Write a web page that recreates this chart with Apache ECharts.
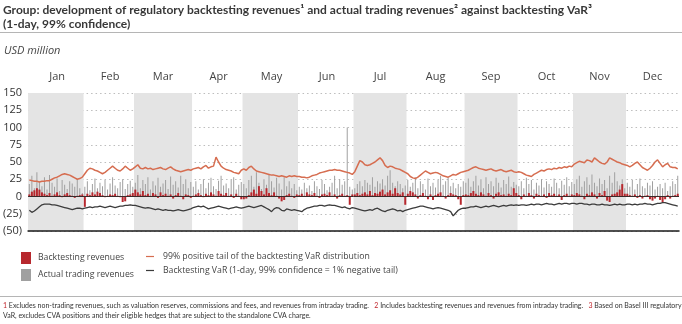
<!DOCTYPE html>
<html>
<head>
<meta charset="utf-8">
<script src="https://cdn.jsdelivr.net/npm/echarts@6/dist/echarts.min.js"></script>
<style>
  html, body { margin: 0; padding: 0; background: #fff; }
  #chart { width: 682px; height: 324px; }
</style>
</head>
<body>
<div id="chart"></div>
<script>
// Month names and the number of trading days in each month
const months = ['Jan', 'Feb', 'Mar', 'Apr', 'May', 'Jun', 'Jul', 'Aug', 'Sep', 'Oct', 'Nov', 'Dec'];
const tradingDaysPerMonth = [22, 20, 23, 20, 22, 22, 21, 23, 21, 22, 21, 21];

// Daily regulatory backtesting revenues, USD million
const backtestingRevenues = [
  3, 7, 9, 12, 10, 6, 4, 2, 5, 1, 3, 6, 2, -1, 3, 5, 2, 1, -2, 1, 2, 3,
  -15, 4, 2, 6, 3, 7, 5, 2, -1, 1, 3, 2, 4, 1, -1, -8, -7, 2, 3, 5,
  10, 6, 3, 8, 2, 4, 1, 5, 3, -2, 6, 2, 4, 1, 3, -3, 2, 5, 1, -4, 3, 2, -2,
  1, 3, 5, 2, -1, 4, 2, 6, 3, 1, 8, 4, 2, 5, 1, 3, -2, 4, 1, -4,
  -4, -3, 2, 6, 10, 4, 15, 8, 3, 12, 5, 2, 6, 1, -3, -7, -5, 2, 4, 1, -2, 3,
  2, 4, 1, 6, 3, 2, 5, 1, -2, 3, 4, 2, 6, 1, 3, -3, 2, 4, 1, 2, -12, 3,
  3, 5, 2, 4, 6, 3, 8, 2, 5, 4, 7, 10, 3, 6, 9, 4, 12, 5, 3, 6, -12,
  4, 8, 6, 3, -3, 2, 5, 1, -4, 3, -5, 2, 4, 6, 1, -3, 2, 5, 3, 2, -4, -12, 2,
  3, 2, 5, 8, 4, 2, 6, 3, 1, 5, 2, -3, 4, 6, 2, 3, 1, 4, 2, 12, 5,
  2, -4, 3, 1, 5, 2, -3, 4, 2, 1, 3, -2, 5, 2, 4, 1, 3, -5, 2, 4, 1, 3,
  2, 5, 3, 1, -4, 4, 2, 6, 3, -3, 5, 2, 8, -6, -8, 3, 4, 6, 10, 18, 4,
  4, 2, 1, 3, -2, 2, -3, 1, 2, -4, -6, -3, 1, -5, -8, -4, 2, -3, 1, 2, 4
];

// Daily actual trading revenues, USD million
const actualTradingRevenues = [
  18, 30, 12, 35, 22, 15, 28, 10, 31, 20, 14, 26, 8, 24, 17, 11, 22, 19, 14, 25, 12, 5,
  14, 22, 9, 18, 26, 12, 20, 15, 24, 10, 19, 28, 16, 12, 21, 25, 11, 18, 23, 14,
  20, 31, 12, 24, 18, 28, 10, 22, 16, 27, 14, 19, 24, 11, 29, 17, 22, 13, 30, 18, 25, 12, 21,
  14, 22, 10, 18, 25, 12, 20, 27, 15, 11, 23, 30, 16, 19, 12, 24, 28, 10, 17, 21,
  18, 12, 24, 30, 14, 35, 20, 11, 25, 17, 31, 22, 13, 27, 19, 10, 28, 15, 22, 12, 18, 9,
  14, 10, 20, 12, 16, 8, 22, 15, 11, 24, 18, 9, 14, 20, 30, 12, 25, 17, 22, 100, 14, 10,
  12, 18, 22, 15, 24, 20, 17, 28, 14, 22, 19, 25, 16, 30, 38, 20, 15, 22, 18, 12, 16,
  24, 14, 20, 28, 12, 22, 18, 10, 26, 15, 20, 13, 24, 30, 17, 22, 28, 15, 20, 12, 18, 14, 22,
  20, 26, 14, 22, 30, 16, 25, 12, 28, 18, 22, 15, 27, 20, 13, 24, 18, 29, 14, 21, 17,
  15, 22, 12, 27, 18, 24, 10, 20, 16, 25, 13, 22, 18, 14, 26, 20, 12, 23, 17, 28, 15, 21,
  18, 25, 30, 14, 22, 28, 17, 32, 20, 15, 26, 18, 24, 12, 30, 20, 35, 22, 16, 25, 12,
  20, 14, 24, 10, 18, 26, 15, 12, 20, 16, 22, 10, 14, 18, 12, 20, 8, 15, 22, 18, 30
];

// 99% positive tail of the backtesting VaR distribution, USD million
const positiveTail = [
  24, 23, 22, 22, 21, 22, 22, 23, 23, 25, 27, 28, 30, 32, 33, 32, 31, 29, 27, 25, 26, 28,
  33, 38, 41, 40, 38, 37, 35, 33, 35, 38, 41, 44, 41, 38, 37, 40, 44, 41, 38, 40,
  43, 46, 41, 40, 42, 40, 41, 39, 40, 41, 42, 40, 39, 41, 43, 40, 38, 37, 36, 37, 38, 39, 38,
  40, 41, 42, 40, 43, 45, 41, 43, 44, 57, 50, 44, 41, 39, 38, 37, 35, 34, 33, 38,
  40, 38, 42, 44, 40, 37, 36, 35, 34, 33, 32, 31, 31, 30, 29, 30, 29, 28, 30, 29, 30, 29,
  29, 28, 28, 27, 28, 30, 31, 32, 34, 35, 36, 37, 38, 38, 39, 38, 38, 37, 36, 35, 34, 32,
  36, 44, 52, 50, 46, 45, 46, 48, 50, 53, 56, 52, 45, 42, 44, 43, 41, 40, 39, 37, 35,
  33, 29, 27, 26, 28, 31, 34, 37, 35, 33, 34, 35, 34, 32, 30, 29, 28, 30, 32, 31, 33, 35, 36,
  37, 38, 40, 42, 43, 41, 40, 39, 38, 39, 40, 38, 37, 38, 39, 37, 36, 37, 38, 36, 35,
  36, 35, 33, 31, 30, 29, 32, 34, 36, 38, 37, 39, 40, 39, 41, 40, 42, 41, 43, 42, 44, 43,
  47, 49, 51, 50, 49, 53, 52, 50, 56, 53, 50, 48, 47, 50, 56, 54, 52, 50, 49, 47, 46,
  45, 43, 45, 48, 50, 46, 42, 40, 38, 41, 45, 50, 53, 48, 43, 46, 48, 43, 42, 42, 40
];

// Backtesting VaR (1-day, 99% confidence), USD million
const backtestingVaR = [
  -20, -23, -21, -18, -15, -12, -11, -11, -11, -12, -12, -13, -14, -15, -16, -17, -18, -19, -18, -17, -17, -18,
  -17, -16, -15, -16, -15, -15, -14, -15, -16, -15, -14, -15, -16, -15, -14, -14, -13, -13, -12, -13,
  -13, -14, -15, -16, -17, -16, -17, -18, -19, -18, -19, -20, -19, -20, -20, -21, -20, -19, -20, -21, -20, -19, -18,
  -16, -15, -14, -15, -14, -16, -18, -17, -16, -15, -14, -15, -16, -17, -18, -17, -16, -15, -16, -17,
  -16, -15, -14, -15, -16, -15, -14, -13, -15, -17, -19, -22, -18, -16, -17, -20, -21, -18, -19, -20, -19, -20,
  -21, -22, -19, -17, -16, -15, -14, -14, -13, -13, -14, -13, -12, -13, -13, -14, -15, -16, -15, -17, -18, -16,
  -17, -18, -19, -20, -21, -20, -19, -20, -18, -17, -19, -21, -22, -20, -19, -18, -19, -21, -20, -22, -20,
  -19, -18, -17, -16, -15, -14, -14, -15, -16, -17, -18, -17, -16, -17, -18, -19, -20, -22, -28, -24, -20, -18, -17,
  -17, -16, -15, -15, -14, -15, -16, -15, -14, -15, -14, -13, -14, -15, -14, -13, -14, -13, -12, -13, -12,
  -13, -12, -12, -13, -12, -11, -12, -11, -11, -12, -11, -10, -11, -11, -12, -11, -10, -11, -10, -10, -11, -10,
  -10, -11, -10, -10, -11, -11, -12, -11, -11, -12, -12, -11, -12, -12, -13, -12, -11, -12, -11, -12, -12,
  -11, -11, -12, -11, -12, -11, -11, -10, -11, -11, -12, -11, -10, -10, -9, -9, -10, -11, -12, -13, -14
];

// Value axis ticks
const yMin = -50, yMax = 150, yStep = 25;

// ---- day categories, month label positions and shaded month ranges ----
const days = [];
const monthMid = {};
const shadedMonths = [];
let start = 0;
tradingDaysPerMonth.forEach((n, m) => {
  for (let d = 0; d < n; d++) days.push(months[m] + ' ' + (d + 1));
  monthMid[start + Math.floor(n / 2)] = months[m];
  if (m % 2 === 0) shadedMonths.push([start, start + n - 1]);
  start += n;
});

const NARROW = "Lato, 'Open Sans', sans-serif";
const REG = "'Open Sans', 'Noto Sans', sans-serif";

const chart = echarts.init(document.getElementById('chart'), null, { renderer: 'canvas' });

chart.setOption({
  animation: false,
  backgroundColor: '#fff',
  title: {
    text: 'Group: development of regulatory backtesting revenues\u00b9 and actual trading revenues\u00b2 against backtesting VaR\u00b3\n(1-day, 99% confidence)',
    left: 3, top: 3, padding: 0,
    textStyle: { fontFamily: NARROW, fontSize: 12, fontWeight: 'bold', color: '#383838', lineHeight: 14 }
  },
  grid: { left: 26, right: 3, top: 93, height: 138, containLabel: false },
  legend: [
    {
      left: 21, top: 252, padding: 0, orient: 'vertical', itemGap: 5,
      itemWidth: 10, itemHeight: 12, icon: 'rect',
      data: ['Backtesting revenues', 'Actual trading revenues'],
      textStyle: { fontFamily: REG, fontSize: 8.7, color: '#444', padding: [2, 0, 0, 2] }
    },
    {
      left: 146, top: 252, padding: 0, orient: 'vertical', itemGap: 5,
      itemWidth: 8, itemHeight: 12,
      icon: 'path://M0,5.4 L8,5.4 L8,6.6 L0,6.6 Z',
      data: ['99% positive tail of the backtesting VaR distribution', 'Backtesting VaR (1-day, 99% confidence = 1% negative tail)'],
      textStyle: { fontFamily: REG, fontSize: 8.7, color: '#444', padding: [2, 0, 0, 4] }
    }
  ],
  xAxis: [
    {
      type: 'category', data: days, position: 'top', boundaryGap: true,
      axisLine: { show: false }, axisTick: { show: false }, splitLine: { show: false },
      axisLabel: {
        margin: 11, interval: 0, fontFamily: REG, fontSize: 11, color: '#444',
        formatter: (v, i) => monthMid[i] || ''
      }
    },
    {
      type: 'category', data: days, position: 'bottom', boundaryGap: true,
      axisLine: { show: true, onZero: false, lineStyle: { color: '#1a1a1a', width: 1.5 } },
      axisTick: { show: false }, axisLabel: { show: false }, splitLine: { show: false }
    }
  ],
  yAxis: {
    type: 'value', min: yMin, max: yMax, interval: yStep,
    axisLine: { show: false }, axisTick: { show: false },
    axisLabel: {
      margin: 6, fontFamily: REG, fontSize: 11, color: '#333',
      formatter: v => (v < 0 ? '(' + (-v) + ')' : String(v))
    },
    splitLine: { show: true, lineStyle: { color: '#bdbdbd', type: [1.5, 3], width: 1 } }
  },
  series: [
    {
      // grey background bands for alternate months
      type: 'custom', xAxisIndex: 0, silent: true, z: 0,
      data: shadedMonths,
      encode: { x: [0, 1] },
      renderItem: (params, api) => {
        const band = api.size([1, 0])[0];
        const p0 = api.coord([api.value(0), yMax]);
        const p1 = api.coord([api.value(1), yMin]);
        return {
          type: 'rect',
          shape: { x: p0[0] - band / 2, y: p0[1], width: p1[0] - p0[0] + band, height: p1[1] - p0[1] },
          style: { fill: '#e4e4e4' }
        };
      }
    },
    {
      name: 'Actual trading revenues', type: 'bar', xAxisIndex: 1,
      data: actualTradingRevenues, barWidth: 1, z: 2,
      itemStyle: { color: '#a0a0a0' }
    },
    {
      name: 'Backtesting revenues', type: 'bar', xAxisIndex: 0,
      data: backtestingRevenues, barWidth: 2, z: 3,
      itemStyle: { color: '#b7282e' },
      markLine: {
        silent: true, symbol: 'none', label: { show: false },
        lineStyle: { color: '#3a2a2a', type: 'solid', width: 1 },
        data: [{ yAxis: 0 }]
      }
    },
    {
      name: '99% positive tail of the backtesting VaR distribution', type: 'line',
      data: positiveTail, symbol: 'none', z: 4,
      lineStyle: { color: '#d66d50', width: 1.5 }, itemStyle: { color: '#d66d50' }
    },
    {
      name: 'Backtesting VaR (1-day, 99% confidence = 1% negative tail)', type: 'line',
      data: backtestingVaR, symbol: 'none', z: 4,
      lineStyle: { color: '#3b3b3b', width: 1.3 }, itemStyle: { color: '#3b3b3b' }
    }
  ],
  graphic: [
    { type: 'line', shape: { x1: 0, y1: 32.5, x2: 682, y2: 32.5 }, style: { stroke: '#b5b5b5', lineWidth: 1 } },
    {
      type: 'text', left: 4, top: 45,
      style: { text: 'USD million', font: 'italic 11px ' + REG, fill: '#444' }
    },
    { type: 'line', shape: { x1: 0, y1: 296.5, x2: 682, y2: 296.5 }, style: { stroke: '#b5b5b5', lineWidth: 1 } },
    {
      type: 'text', left: 3, top: 301,
      style: {
        text: '{n|1} Excludes non-trading revenues, such as valuation reserves, commissions and fees, and revenues from intraday trading.   {n|2} Includes backtesting revenues and revenues from intraday trading.   {n|3} Based on Basel III regulatory\nVaR, excludes CVA positions and their eligible hedges that are subject to the standalone CVA charge.',
        fontFamily: NARROW, fontSize: 7, fill: '#333', lineHeight: 10,
        rich: { n: { fill: '#c0262d', fontFamily: NARROW, fontSize: 7 } }
      }
    }
  ]
});
</script>
</body>
</html>
